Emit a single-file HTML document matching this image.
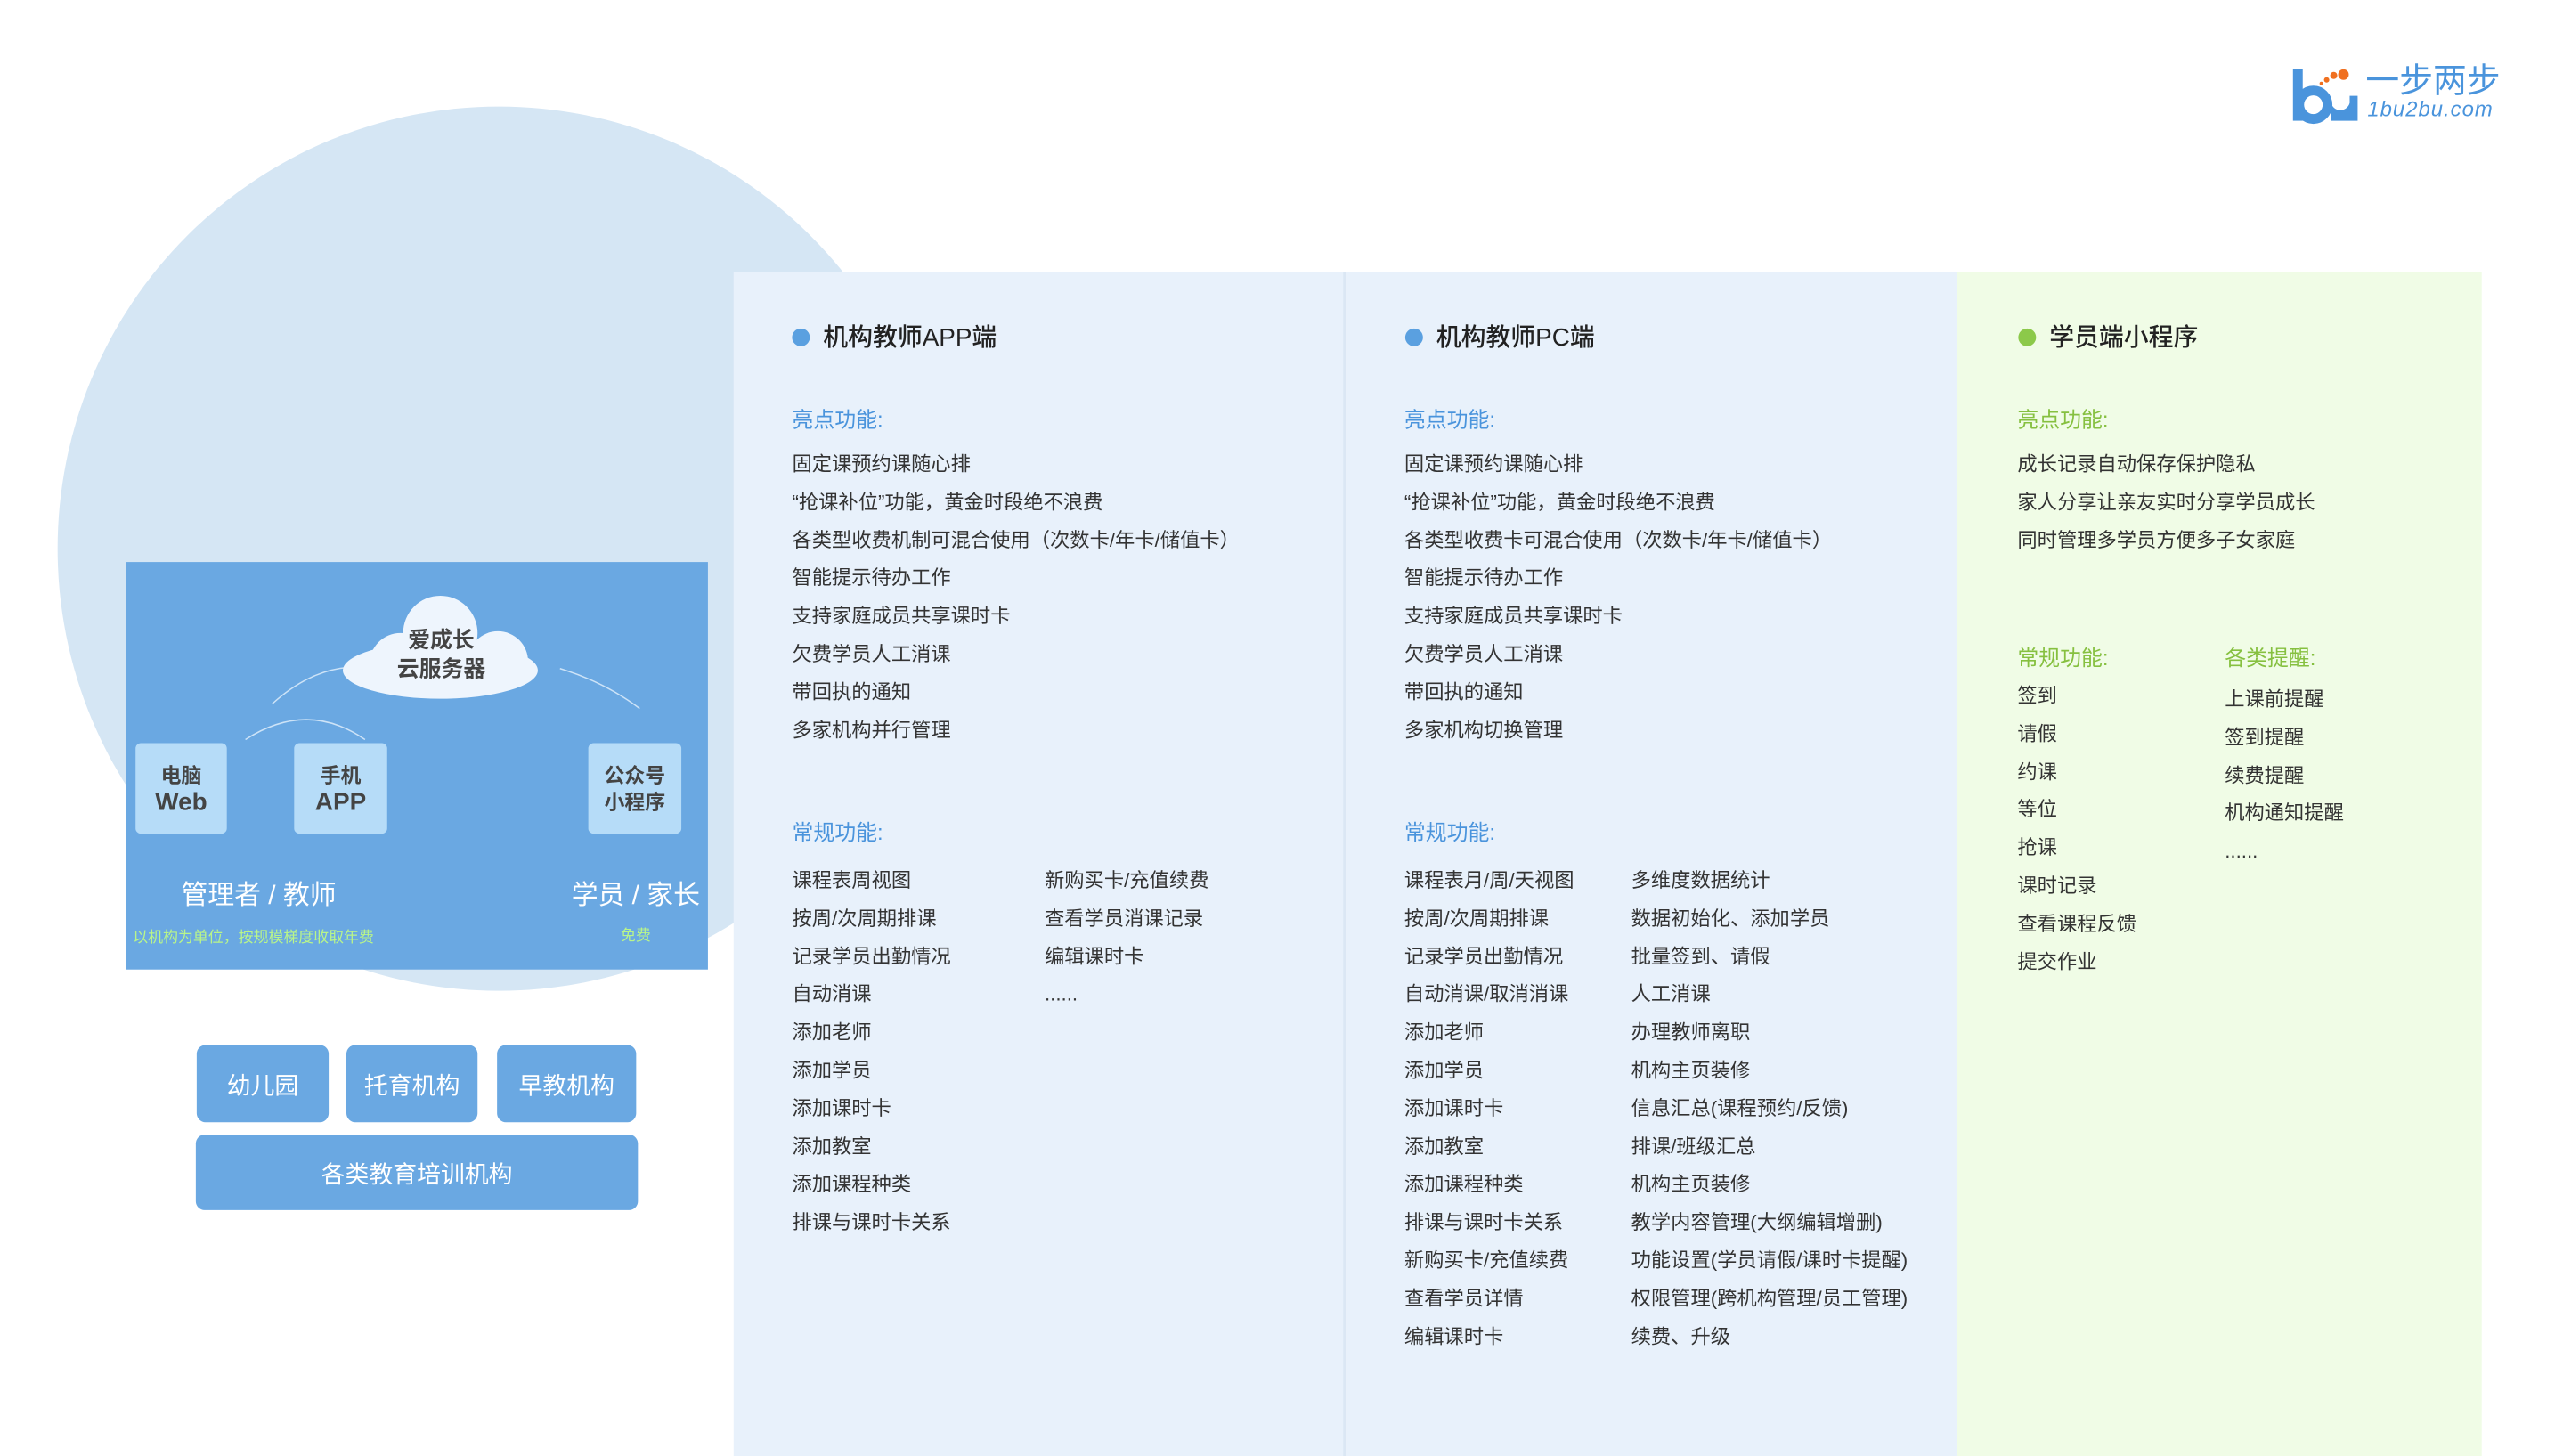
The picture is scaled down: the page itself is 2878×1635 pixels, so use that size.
<!DOCTYPE html>
<html><head><meta charset="utf-8"><style>
*{margin:0;padding:0;box-sizing:border-box}
body{width:2878px;height:1620px;position:relative;overflow:hidden;background:#fff;font-family:"Liberation Sans","Noto Sans CJK SC",sans-serif;color:#333}
#w{position:absolute;left:0;top:0;width:2878px;height:1640px;transform:scale(0.9949,0.997);transform-origin:0 0}
.a{position:absolute}
.list{position:absolute;font-size:22.4px;line-height:42.8px;white-space:nowrap;color:#333}
.ttl{position:absolute;font-size:28px;line-height:40px;font-weight:500;color:#222;white-space:nowrap}
.dot{position:absolute;width:20px;height:20px;border-radius:50%}
.hd{position:absolute;font-size:24px;line-height:34px;white-space:nowrap}
.node{position:absolute;background:#b6dcf8;border-radius:6px;color:#444;font-weight:bold;text-align:center;display:flex;flex-direction:column;justify-content:center;font-size:23px;line-height:30px}
.btn{position:absolute;background:#6aa8e2;border-radius:10px;color:#fff;font-size:27px;display:flex;align-items:center;justify-content:center}
</style></head><body><div id="w">
<div class="a" style="left:65px;top:120px;width:996px;height:996px;border-radius:50%;background:#d5e6f4"></div>
<div class="a" style="left:828px;top:306px;width:690px;height:1334px;background:#e8f1fb"></div>
<div class="a" style="left:1516px;top:306px;width:3px;height:1334px;background:#dbe7f4"></div>
<div class="a" style="left:1519px;top:306px;width:690px;height:1334px;background:#e8f1fb"></div>
<div class="a" style="left:2209px;top:306px;width:592px;height:1334px;background:#f0fce6"></div>
<div class="a" style="left:142px;top:633px;width:657px;height:459px;background:#6aa8e2"></div>
<svg class="a" style="left:142px;top:633px" width="657" height="459">
<path d="M135 200 Q205 155 270 200" stroke="#cde3f7" stroke-width="1.5" fill="none"/>
<path d="M165 160 Q220 110 280 120" stroke="#cde3f7" stroke-width="1.5" fill="none"/>
<path d="M490 120 Q540 135 580 165" stroke="#cde3f7" stroke-width="1.5" fill="none"/>
<g fill="#eef5fd"><circle cx="355" cy="80" r="42"/><circle cx="310" cy="115" r="35"/><circle cx="420" cy="112" r="34"/><rect x="310" y="95" width="110" height="55" rx="27"/><ellipse cx="355" cy="122" rx="110" ry="32"/></g>
</svg>
<div class="a" style="left:380px;top:705px;width:236px;text-align:center;font-size:25px;line-height:33px;font-weight:bold;color:#444">爱成长<br>云服务器</div>
<div class="node" style="left:153px;top:837px;width:103px;height:102px">电脑<span style="font-size:28px">Web</span></div>
<div class="node" style="left:332px;top:837px;width:105px;height:102px">手机<span style="font-size:28px">APP</span></div>
<div class="node" style="left:664px;top:837px;width:105px;height:102px">公众号<br>小程序</div>
<div class="a" style="left:142px;top:989px;width:300px;text-align:center;color:#fff;font-size:30px;line-height:40px">管理者 / 教师</div>
<div class="a" style="left:620px;top:989px;width:195px;text-align:center;color:#fff;font-size:30px;line-height:40px">学员 / 家长</div>
<div class="a" style="left:150px;top:1044px;width:300px;color:#b9f58a;font-size:17px;line-height:24px;white-space:nowrap">以机构为单位，按规模梯度收取年费</div>
<div class="a" style="left:620px;top:1042px;width:195px;text-align:center;color:#b9f58a;font-size:17px;line-height:24px">免费</div>
<div class="btn" style="left:222px;top:1177px;width:149px;height:87px">幼儿园</div>
<div class="btn" style="left:391px;top:1177px;width:148px;height:87px">托育机构</div>
<div class="btn" style="left:561px;top:1177px;width:157px;height:87px">早教机构</div>
<div class="btn" style="left:221px;top:1278px;width:499px;height:85px">各类教育培训机构</div>

<div class="dot" style="left:894px;top:370px;background:#5aa0e0"></div>
<div class="ttl" style="left:929px;top:360px">机构教师APP端</div>
<div class="hd" style="left:894px;top:457px;color:#4a94dc">亮点功能:</div>
<div class="list" style="left:894px;top:502px">固定课预约课随心排<br>“抢课补位”功能，黄金时段绝不浪费<br>各类型收费机制可混合使用（次数卡/年卡/储值卡）<br>智能提示待办工作<br>支持家庭成员共享课时卡<br>欠费学员人工消课<br>带回执的通知<br>多家机构并行管理</div>
<div class="hd" style="left:894px;top:922px;color:#4a94dc">常规功能:</div>
<div class="list" style="left:894px;top:971px">课程表周视图<br>按周/次周期排课<br>记录学员出勤情况<br>自动消课<br>添加老师<br>添加学员<br>添加课时卡<br>添加教室<br>添加课程种类<br>排课与课时卡关系</div>
<div class="list" style="left:1179px;top:971px">新购买卡/充值续费<br>查看学员消课记录<br>编辑课时卡<br>......</div>

<div class="dot" style="left:1586px;top:370px;background:#5aa0e0"></div>
<div class="ttl" style="left:1621px;top:360px">机构教师PC端</div>
<div class="hd" style="left:1585px;top:457px;color:#4a94dc">亮点功能:</div>
<div class="list" style="left:1585px;top:502px">固定课预约课随心排<br>“抢课补位”功能，黄金时段绝不浪费<br>各类型收费卡可混合使用（次数卡/年卡/储值卡）<br>智能提示待办工作<br>支持家庭成员共享课时卡<br>欠费学员人工消课<br>带回执的通知<br>多家机构切换管理</div>
<div class="hd" style="left:1585px;top:922px;color:#4a94dc">常规功能:</div>
<div class="list" style="left:1585px;top:971px">课程表月/周/天视图<br>按周/次周期排课<br>记录学员出勤情况<br>自动消课/取消消课<br>添加老师<br>添加学员<br>添加课时卡<br>添加教室<br>添加课程种类<br>排课与课时卡关系<br>新购买卡/充值续费<br>查看学员详情<br>编辑课时卡</div>
<div class="list" style="left:1841px;top:971px">多维度数据统计<br>数据初始化、添加学员<br>批量签到、请假<br>人工消课<br>办理教师离职<br>机构主页装修<br>信息汇总(课程预约/反馈)<br>排课/班级汇总<br>机构主页装修<br>教学内容管理(大纲编辑增删)<br>功能设置(学员请假/课时卡提醒)<br>权限管理(跨机构管理/员工管理)<br>续费、升级</div>

<div class="dot" style="left:2278px;top:370px;background:#8cc94a"></div>
<div class="ttl" style="left:2313px;top:360px">学员端小程序</div>
<div class="hd" style="left:2277px;top:457px;color:#86c040">亮点功能:</div>
<div class="list" style="left:2277px;top:502px">成长记录自动保存保护隐私<br>家人分享让亲友实时分享学员成长<br>同时管理多学员方便多子女家庭</div>
<div class="hd" style="left:2277px;top:725px;color:#86c040">常规功能:</div>
<div class="list" style="left:2277px;top:763px">签到<br>请假<br>约课<br>等位<br>抢课<br>课时记录<br>查看课程反馈<br>提交作业</div>
<div class="hd" style="left:2511px;top:725px;color:#86c040">各类提醒:</div>
<div class="list" style="left:2511px;top:767px">上课前提醒<br>签到提醒<br>续费提醒<br>机构通知提醒<br>......</div>

<svg class="a" style="left:2585px;top:72px" width="80" height="70">
<rect x="3" y="6" width="11" height="58" fill="#4a94dc"/>
<circle cx="26" cy="46" r="16" fill="none" stroke="#4a94dc" stroke-width="11"/>
<path d="M46 36 v28 h30 v-28 h-9 v8 a11 11 0 0 1 -12 8 a11 11 0 0 1 -9 -8z" fill="#4a94dc"/>
<circle cx="60" cy="12" r="6" fill="#f07020"/><circle cx="49" cy="13" r="4" fill="#f07020"/><circle cx="41" cy="18" r="3" fill="#f07020"/><circle cx="35" cy="22" r="2" fill="#f07020"/>
</svg>
<div class="a" style="left:2670px;top:70px;font-size:38px;line-height:44px;color:#4a94dc;white-space:nowrap">一步两步</div>
<div class="a" style="left:2672px;top:110px;font-size:24px;line-height:28px;color:#4a94dc;font-style:italic;white-space:nowrap;letter-spacing:1px">1bu2bu.com</div>
</div></body></html>
